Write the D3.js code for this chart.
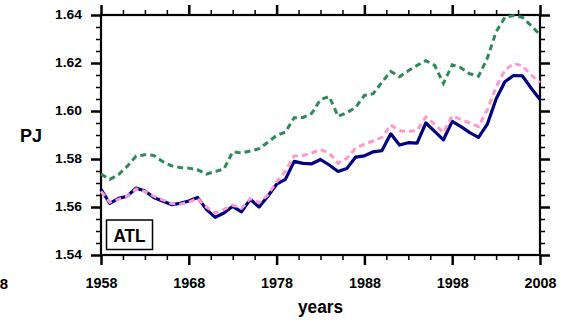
<!DOCTYPE html>
<html>
<head>
<meta charset="utf-8">
<script src="https://cdn.jsdelivr.net/npm/d3@7"></script>
<style>
  html, body { margin: 0; padding: 0; background: #fff; }
  svg { display: block; font-family: "Liberation Sans", Arial, Helvetica, sans-serif; }
</style>
</head>
<body>
<svg id="chart" width="564" height="320"></svg>
<script>
// Annual series, 1958-2008 (PJ)
const years = d3.range(1958, 2009);

const seriesNavy = [
  1.5674, 1.5615, 1.5636, 1.5645, 1.5679, 1.5667, 1.5640, 1.5625, 1.5610, 1.5615,
  1.5625, 1.5640, 1.5590, 1.5557, 1.5575, 1.5603, 1.5580, 1.5632, 1.5600, 1.5645,
  1.5695, 1.5715, 1.5790, 1.5782, 1.5780, 1.5798, 1.5775, 1.5748, 1.5760, 1.5808,
  1.5813, 1.5830, 1.5835, 1.5905, 1.5858, 1.5868, 1.5866, 1.5950, 1.5915, 1.5880,
  1.5957, 1.5935, 1.5910, 1.5890, 1.5945, 1.6050, 1.6122, 1.6148, 1.6146, 1.6095,
  1.6048
];

const seriesPink = [
  1.5665, 1.5620, 1.5632, 1.5645, 1.5675, 1.5665, 1.5645, 1.5630, 1.5615, 1.5612,
  1.5620, 1.5636, 1.5600, 1.5575, 1.5590, 1.5608, 1.5595, 1.5635, 1.5618, 1.5650,
  1.5705, 1.5750, 1.5812, 1.5815, 1.5825, 1.5840, 1.5825, 1.5782, 1.5803, 1.5845,
  1.5862, 1.5875, 1.5890, 1.5942, 1.5918, 1.5915, 1.5918, 1.5975, 1.5945, 1.5910,
  1.5980, 1.5965, 1.5950, 1.5935, 1.6005, 1.6100, 1.6170, 1.6198, 1.6188, 1.6150,
  1.6118
];

const seriesGreen = [
  1.5737, 1.5715, 1.5735, 1.5770, 1.5812, 1.5818, 1.5815, 1.5790, 1.5772, 1.5765,
  1.5762, 1.5755, 1.5737, 1.5748, 1.5758, 1.5830, 1.5825, 1.5833, 1.5843, 1.5870,
  1.5898, 1.5912, 1.5972, 1.5973, 1.5990, 1.6048, 1.6060, 1.5978, 1.5993, 1.6015,
  1.6065, 1.6072, 1.6120, 1.6165, 1.6143, 1.6168, 1.6190, 1.6210, 1.6190, 1.6115,
  1.6192, 1.6180, 1.6155, 1.6145, 1.6220, 1.6330, 1.6390, 1.6398, 1.6390, 1.6355,
  1.6318
];

const xMajorTicks = [1958, 1968, 1978, 1988, 1998, 2008];
const yMajorTicks = [1.54, 1.56, 1.58, 1.60, 1.62, 1.64];
const panelLabel = "ATL";
const xTitle = "years";
const yTitle = "PJ";

const svg = d3.select("#chart");
const plot = { left: 101, right: 540, top: 15, bottom: 255 };

const x = d3.scaleLinear().domain([1958, 2008]).range([plot.left, plot.right]);
const y = d3.scaleLinear().domain([1.54, 1.64]).range([plot.bottom, plot.top]);

const xMinor = d3.range(1958, 2008.01, 2.5).filter(v => !xMajorTicks.includes(v));
const yMinor = d3.range(0, 21).map(i => +(1.54 + i * 0.005).toFixed(3))
  .filter(v => !yMajorTicks.some(t => Math.abs(t - v) < 1e-6));

function styleAxis(g, width) {
  g.select(".domain").remove();
  g.selectAll(".tick line").attr("stroke", "#000").attr("stroke-width", width);
}

// minor ticks on all four sides
svg.append("g").attr("transform", `translate(0,${plot.bottom})`)
  .call(d3.axisBottom(x).tickValues(xMinor).tickSize(5).tickFormat(""))
  .call(g => styleAxis(g, 1.5));
svg.append("g").attr("transform", `translate(0,${plot.top})`)
  .call(d3.axisTop(x).tickValues(xMinor).tickSize(5).tickFormat(""))
  .call(g => styleAxis(g, 1.5));
svg.append("g").attr("transform", `translate(${plot.left},0)`)
  .call(d3.axisLeft(y).tickValues(yMinor).tickSize(5).tickFormat(""))
  .call(g => styleAxis(g, 1.5));
svg.append("g").attr("transform", `translate(${plot.right},0)`)
  .call(d3.axisRight(y).tickValues(yMinor).tickSize(5).tickFormat(""))
  .call(g => styleAxis(g, 1.5));

// major ticks with labels
const xAxis = svg.append("g").attr("transform", `translate(0,${plot.bottom})`)
  .call(d3.axisBottom(x).tickValues(xMajorTicks).tickSize(10).tickPadding(12).tickFormat(d3.format("d")))
  .call(g => styleAxis(g, 2.5));
xAxis.selectAll("text").attr("font-size", 15).attr("font-weight", "bold").attr("fill", "#000")
  .attr("font-family", "Liberation Sans, Arial, sans-serif")
  .attr("textLength", 32).attr("lengthAdjust", "spacingAndGlyphs");

svg.append("g").attr("transform", `translate(0,${plot.top})`)
  .call(d3.axisTop(x).tickValues(xMajorTicks).tickSize(10).tickFormat(""))
  .call(g => styleAxis(g, 2.5));

const yAxis = svg.append("g").attr("transform", `translate(${plot.left},0)`)
  .call(d3.axisLeft(y).tickValues(yMajorTicks).tickSize(10).tickPadding(9).tickFormat(d3.format(".2f")))
  .call(g => styleAxis(g, 2.5));
yAxis.selectAll("text").attr("font-size", 12).attr("font-weight", "bold").attr("fill", "#000")
  .attr("font-family", "Liberation Sans, Arial, sans-serif")
  .attr("textLength", 27).attr("lengthAdjust", "spacingAndGlyphs");

svg.append("g").attr("transform", `translate(${plot.right},0)`)
  .call(d3.axisRight(y).tickValues(yMajorTicks).tickSize(10).tickFormat(""))
  .call(g => styleAxis(g, 2.5));

// plot frame
svg.append("rect")
  .attr("x", plot.left).attr("y", plot.top)
  .attr("width", plot.right - plot.left).attr("height", plot.bottom - plot.top)
  .attr("fill", "none").attr("stroke", "#000").attr("stroke-width", 2.2);

// series lines
const line = d3.line().x((d, i) => x(years[i])).y(d => y(d));

svg.append("path").datum(seriesGreen)
  .attr("d", line).attr("fill", "none")
  .attr("stroke", "#2e8b57").attr("stroke-width", 3)
  .attr("stroke-dasharray", "6,4");

svg.append("path").datum(seriesNavy)
  .attr("d", line).attr("fill", "none")
  .attr("stroke", "#000080").attr("stroke-width", 3.2)
  .attr("stroke-linejoin", "round");

svg.append("path").datum(seriesPink)
  .attr("d", line).attr("fill", "none")
  .attr("stroke", "#ff99cc").attr("stroke-width", 3)
  .attr("stroke-dasharray", "6,4");

// panel label box
svg.append("rect")
  .attr("x", 106.5).attr("y", 220).attr("width", 46).attr("height", 29.5)
  .attr("fill", "#fff").attr("stroke", "#000").attr("stroke-width", 1.5);
svg.append("text")
  .attr("x", 129.5).attr("y", 241.5)
  .attr("text-anchor", "middle").attr("font-size", 18).attr("font-weight", "bold")
  .attr("textLength", 32).attr("lengthAdjust", "spacingAndGlyphs")
  .text(panelLabel);

// axis titles
svg.append("text")
  .attr("x", 320.5).attr("y", 312.5)
  .attr("text-anchor", "middle").attr("font-size", 18).attr("font-weight", "bold")
  .attr("textLength", 45).attr("lengthAdjust", "spacingAndGlyphs")
  .text(xTitle);

svg.append("text")
  .attr("x", 31).attr("y", 141.5)
  .attr("text-anchor", "middle").attr("font-size", 18).attr("font-weight", "bold")
  .text(yTitle);

// last year label of the neighbouring panel, cut by the left edge
svg.append("text")
  .attr("x", 8).attr("y", 288.5)
  .attr("text-anchor", "end").attr("font-size", 15).attr("font-weight", "bold")
  .text("2008");
</script>
</body>
</html>
